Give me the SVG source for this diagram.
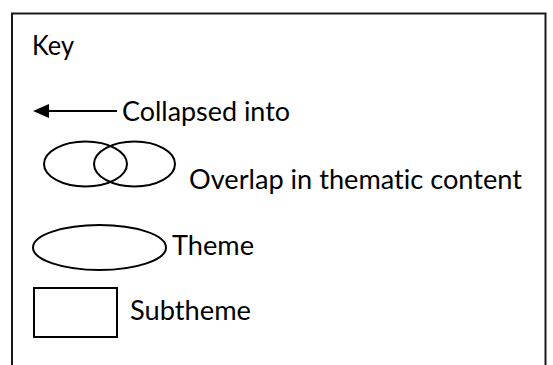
<svg xmlns="http://www.w3.org/2000/svg" width="553" height="365" viewBox="0 0 553 365">
  <defs>
    <marker id="arrowhead" viewBox="0 0 16 14" refX="1" refY="7" markerWidth="16" markerHeight="14" markerUnits="userSpaceOnUse" orient="auto-start-reverse">
      <path d="M0,0 L16,7 L0,14 Z" fill="#000"/>
    </marker>
  </defs>
  <style>
    .label { font-family: Lato, "Open Sans", "Liberation Sans", sans-serif; font-size: 26px; fill: #000; font-variant-ligatures: none; font-feature-settings: "liga" 0, "clig" 0; }
    .shape { fill: none; stroke: #000; stroke-width: 2; }
    .frame { fill: none; stroke: #1a1a1a; stroke-width: 2; }
  </style>
  <rect width="553" height="365" fill="#fff"/>

  <!-- key frame, open at the bottom -->
  <path class="frame" d="M12,366 V13.5 H545.5 V366"/>

  <g id="title">
    <text class="label" x="32" y="55" textLength="42" lengthAdjust="spacingAndGlyphs">Key</text>
  </g>

  <g id="connectors">
    <line x1="117" y1="111" x2="48" y2="111" stroke="#000" stroke-width="2.2" marker-end="url(#arrowhead)"/>
  </g>

  <g id="collapsed-label">
    <text class="label" x="122" y="121" textLength="168" lengthAdjust="spacingAndGlyphs">Collapsed into</text>
  </g>

  <g id="overlap">
    <ellipse class="shape" cx="85.5" cy="164" rx="41.5" ry="22.5"/>
    <ellipse class="shape" cx="134.5" cy="164" rx="40.5" ry="22.5"/>
    <text class="label" x="189" y="189" textLength="333" lengthAdjust="spacingAndGlyphs">Overlap in thematic content</text>
  </g>

  <g id="theme">
    <ellipse class="shape" cx="99.5" cy="247.5" rx="66.5" ry="22.5"/>
    <text class="label" x="172" y="255" textLength="82" lengthAdjust="spacingAndGlyphs">Theme</text>
  </g>

  <g id="subtheme">
    <rect class="shape" x="34" y="288" width="83" height="49"/>
    <text class="label" x="130" y="320" textLength="121" lengthAdjust="spacingAndGlyphs">Subtheme</text>
  </g>
</svg>
